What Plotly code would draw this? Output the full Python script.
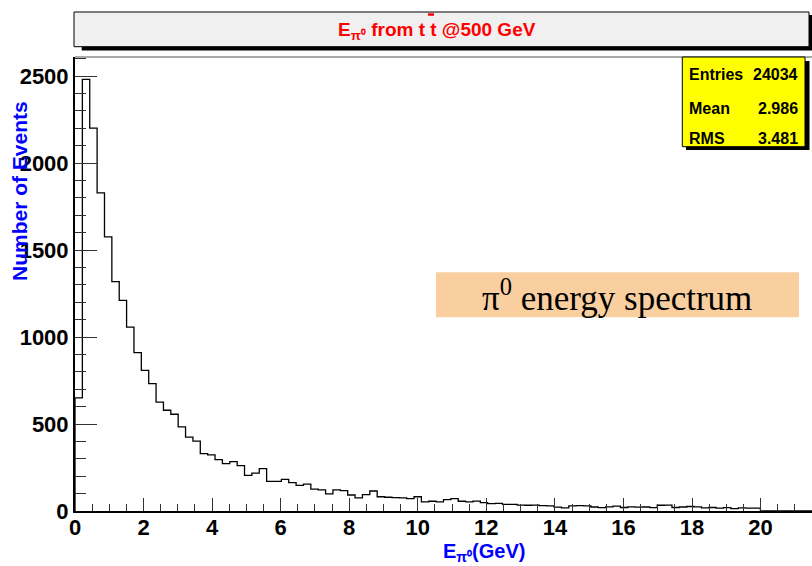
import plotly.graph_objects as go

# ---- data ----
bin_width = 0.215
counts = [650, 2481, 2201, 1828, 1575, 1318, 1211, 1057, 910,
          808, 732, 626, 579, 556, 483, 425, 402, 330, 322, 295,
          272, 284, 261, 205, 218, 243, 170, 170, 182, 163,
          147, 155, 126, 121, 98, 121, 117, 92, 75, 94,
          115, 82, 79, 77, 75, 71, 82, 52, 56, 52,
          65, 71, 56, 52, 57, 48, 42, 44, 38, 38,
          34, 33, 34, 31, 30, 22, 18, 30, 31, 29,
          23, 19, 24, 28, 20, 24, 22, 23, 19, 33,
          34, 20, 23, 26, 24, 18, 20, 17, 19, 14,
          18, 17, 16, 0, 0, 0, 0, 0, 0, 0]
x_ticks = [0, 2, 4, 6, 8, 10, 12, 14, 16, 18, 20]
y_ticks = [0, 500, 1000, 1500, 2000, 2500]
stats_labels = ["Entries", "Mean", "RMS"]
stats_values = ["24034", "2.986", "3.481"]
title_text = "E<sub>π⁰</sub> from t t @500 GeV"
x_title = "E<sub>π⁰</sub>(GeV)"
y_title = "Number of Events"
note_text = "π<sup>0</sup> energy spectrum"

# ---- geometry ----
W, H = 812, 566
L, R, T, B = 75, 0, 57, 55
PW, PH = W - L - R, H - T - B


def px(x):
    return (x - L) / PW


def py(y):
    return (H - B - y) / PH


edges = [i * bin_width for i in range(len(counts) + 1)]
xs = [0.0] + edges[:-1] + [edges[-1]]
ys = [0] + counts + [0]

fig = go.Figure()
fig.add_trace(go.Scatter(x=xs, y=ys, mode="lines", line_shape="hv",
                         line=dict(color="black", width=1.3),
                         hoverinfo="skip", showlegend=False))

bold = dict(family="Liberation Sans, Arial, sans-serif", weight="bold")

fig.update_layout(
    width=W, height=H,
    margin=dict(l=L, r=R, t=T, b=B, pad=0),
    paper_bgcolor="white", plot_bgcolor="white",
    showlegend=False,
    xaxis=dict(range=[0, 21.5], tickvals=x_ticks, ticktext=[str(v) for v in x_ticks],
               ticks="inside", ticklen=13, tickwidth=1, tickcolor="#333",
               minor=dict(dtick=0.5, ticks="inside", ticklen=7, tickcolor="#333", tickwidth=1),
               showgrid=False, zeroline=False, showline=True, linecolor="black", linewidth=2,
               ticklabelstandoff=-4,
               tickfont=dict(size=22, color="black", **bold)),
    yaxis=dict(range=[0, PH / 0.174], tickvals=y_ticks, ticktext=[str(v) for v in y_ticks],
               ticks="inside", ticklen=22, tickwidth=1, tickcolor="#333",
               minor=dict(dtick=100, ticks="inside", ticklen=11, tickcolor="#333", tickwidth=1),
               showgrid=False, zeroline=False, showline=True, linecolor="black", linewidth=2,
               tickfont=dict(size=22, color="black", **bold)),
)

shapes = []
# top frame line
shapes.append(dict(type="line", xref="paper", yref="paper", x0=px(75), x1=px(812),
                   y0=py(57), y1=py(57), line=dict(color="#555", width=1)))
# title box shadow + box
shapes.append(dict(type="rect", xref="paper", yref="paper", x0=px(81.7), x1=px(813),
                   y0=py(50.5), y1=py(15), fillcolor="black", line=dict(width=0)))
shapes.append(dict(type="rect", xref="paper", yref="paper", x0=px(74), x1=px(809),
                   y0=py(46.7), y1=py(12), fillcolor="#f0f0f0",
                   line=dict(color="black", width=1)))
# t-bar
shapes.append(dict(type="line", xref="paper", yref="paper", x0=px(428), x1=px(434),
                   y0=py(14.5), y1=py(14.5), line=dict(color="red", width=2.5)))
# stats box shadow + box
shapes.append(dict(type="rect", xref="paper", yref="paper", x0=px(686), x1=px(809.5),
                   y0=py(150), y1=py(61), fillcolor="black", line=dict(width=0)))
shapes.append(dict(type="rect", xref="paper", yref="paper", x0=px(682.3), x1=px(805),
                   y0=py(146.7), y1=py(57), fillcolor="#ffff00",
                   line=dict(color="black", width=1)))
# orange note box
shapes.append(dict(type="rect", xref="paper", yref="paper", x0=px(436), x1=px(799),
                   y0=py(317.3), y1=py(272.3), fillcolor="#f9cfa0", line=dict(width=0)))
fig.update_layout(shapes=shapes)

ann = []
ann.append(dict(text=title_text, xref="paper", yref="paper", x=px(437), y=py(31),
                showarrow=False, xanchor="center", yanchor="middle",
                font=dict(size=19, color="red", **bold)))
stat_y = [75, 108, 138]
for lab, val, yy in zip(stats_labels, stats_values, stat_y):
    ann.append(dict(text=lab, xref="paper", yref="paper", x=px(687), y=py(yy),
                    showarrow=False, xanchor="left", yanchor="middle",
                    font=dict(size=16, color="black", **bold)))
    ann.append(dict(text=val, xref="paper", yref="paper", x=px(800), y=py(yy),
                    showarrow=False, xanchor="right", yanchor="middle",
                    font=dict(size=16, color="black", **bold)))
ann.append(dict(text=x_title, xref="paper", yref="paper", x=px(484), y=py(552),
                showarrow=False, xanchor="center", yanchor="middle",
                font=dict(size=20, color="blue", **bold)))
ann.append(dict(text=y_title, xref="paper", yref="paper", x=px(20), y=py(191),
                showarrow=False, xanchor="center", yanchor="middle", textangle=-90,
                font=dict(size=21, color="blue", **bold)))
ann.append(dict(text=note_text, xref="paper", yref="paper", x=px(617), y=py(295),
                showarrow=False, xanchor="center", yanchor="middle",
                font=dict(size=35, color="black", family="Liberation Serif, Times New Roman, serif")))
fig.update_layout(annotations=ann)

fig.write_html("out.html", config={"displayModeBar": False},
               post_script="document.body.style.margin='0';document.body.style.overflow='hidden';")
